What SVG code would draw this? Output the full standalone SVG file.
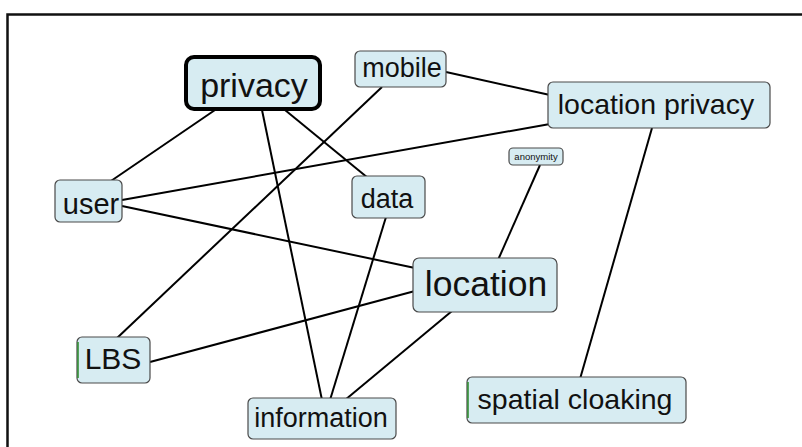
<svg xmlns="http://www.w3.org/2000/svg" width="802" height="447" viewBox="0 0 802 447">
<style>
.n rect{fill:#d7ecf2;stroke:#4a4a4a;stroke-width:1.2}
.n text{font-family:"Liberation Sans",Arial,sans-serif;fill:#111;text-anchor:middle}
.n .g{fill:none;stroke:#2a8a2a;stroke-width:1.5}
.e line{stroke:#000;stroke-width:2}
</style>
<rect x="0" y="0" width="802" height="447" fill="#fff"/>
<path d="M7.5 447 V14.5 H802" fill="none" stroke="#111" stroke-width="2.5"/>
<g id="edges" class="e">
<line x1="215" y1="110" x2="108" y2="183"/>
<line x1="285" y1="110" x2="368" y2="178"/>
<line x1="262" y1="110" x2="322" y2="400"/>
<line x1="382" y1="87" x2="116" y2="339"/>
<line x1="446" y1="72" x2="550" y2="95"/>
<line x1="550" y1="124" x2="122" y2="200"/>
<line x1="652" y1="128" x2="580" y2="379"/>
<line x1="540" y1="165" x2="498" y2="260"/>
<line x1="122" y1="206" x2="415" y2="268"/>
<line x1="386" y1="217" x2="330" y2="400"/>
<line x1="415" y1="291" x2="150" y2="362"/>
<line x1="452" y1="311" x2="345" y2="400"/>
</g>
<g id="privacy" class="n"><rect x="186" y="57" width="134" height="52" rx="8" style="stroke:#000;stroke-width:4"/><text x="254" y="97" font-size="34">privacy</text></g>
<g id="mobile" class="n"><rect x="355" y="51" width="91" height="36" rx="5"/><text x="402" y="77" font-size="27">mobile</text></g>
<g id="location_privacy" class="n"><rect x="548" y="82" width="222" height="46" rx="5"/><text x="656" y="114" font-size="28.5">location privacy</text></g>
<g id="user" class="n"><rect x="55" y="180" width="67" height="42" rx="5"/><text x="91" y="214" font-size="29">user</text></g>
<g id="data" class="n"><rect x="352" y="176" width="73" height="42" rx="5"/><text x="387" y="208" font-size="27">data</text></g>
<g id="anonymity" class="n"><rect x="509" y="148" width="54" height="17" rx="4"/><text x="536" y="160" font-size="9.5">anonymity</text></g>
<g id="location" class="n"><rect x="413" y="258" width="144" height="54" rx="6"/><text x="486" y="296" font-size="35.5">location</text></g>
<g id="LBS" class="n"><rect x="77" y="337" width="73" height="46" rx="5"/><line class="g" x1="78" y1="342" x2="78" y2="378"/><text x="113" y="369" font-size="30">LBS</text></g>
<g id="information" class="n"><rect x="248" y="398" width="148" height="41" rx="5"/><text x="321" y="427" font-size="27">information</text></g>
<g id="spatial_cloaking" class="n"><rect x="467" y="377" width="219" height="46" rx="5"/><line class="g" x1="468" y1="382" x2="468" y2="418"/><text x="575" y="409" font-size="28.5">spatial cloaking</text></g>
</svg>
